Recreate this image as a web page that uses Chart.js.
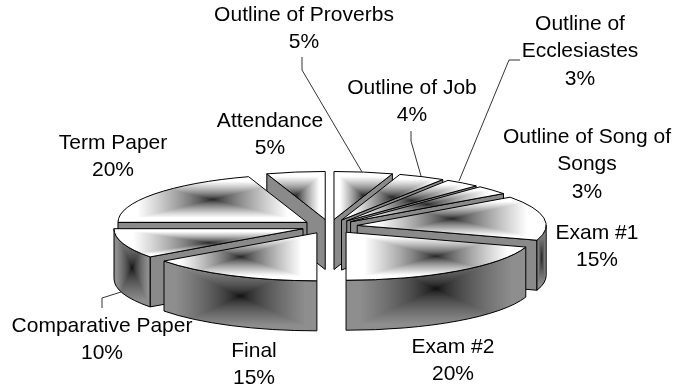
<!DOCTYPE html>
<html>
<head>
<meta charset="utf-8">
<style>html,body{margin:0;padding:0;background:#fff}canvas{display:block}</style>
<script src="https://cdn.jsdelivr.net/npm/chart.js@4"></script>
</head>
<body>
<div style="width:677px;height:392px"><canvas id="c" width="677" height="392"></canvas></div>
<script>
const categories = ['Outline of Proverbs','Outline of Job','Outline of Ecclesiastes','Outline of Song of Songs','Exam #1','Exam #2','Final','Comparative Paper','Term Paper','Attendance'];
const percentages = [5,4,3,3,15,20,15,10,20,5];
const labelLines = [['Outline of Proverbs'],['Outline of Job'],['Outline of','Ecclesiastes'],['Outline of Song of','Songs'],['Exam #1'],['Exam #2'],['Final'],['Comparative Paper'],['Term Paper'],['Attendance']];

// Layout of the annotation (not data)
const labelCenters = [[304,15],[412,88],[580,24],[587,137],[597,233],[453,347],[254,351],[102,326],[113,143],[270,121]];
const lineGap = 27.5;
const leaders = [
  [[302,57],[302,70],[362,172]],
  [[411,131],[411,141],[421,176]],
  [[520,60],[509,60],[459,181]],
  [[102,308],[102,298],[121,292]]
];
const pieView = {cx:329.6, cy:226.5, rx:189, ry:48, depth:50};

function rectGradient(w,h,inner,outer,stop,gamma){
  w=Math.max(1,Math.ceil(w)); h=Math.max(1,Math.ceil(h));
  const c=document.createElement('canvas'); c.width=w; c.height=h;
  const g=c.getContext('2d'); const im=g.createImageData(w,h);
  for(let y=0;y<h;y++)for(let x=0;x<w;x++){
    const t=Math.max(Math.abs(x+.5-w/2)/(w/2),Math.abs(y+.5-h/2)/(h/2));
    const v=inner+(outer-inner)*Math.pow(Math.min(1,t/stop),gamma);
    const i=(y*w+x)*4; im.data[i]=im.data[i+1]=im.data[i+2]=v; im.data[i+3]=255;
  }
  g.putImageData(im,0,0); return c;
}
function fillGrad(ctx,path,box,inner,outer,stop,gamma){
  ctx.save(); path(); ctx.clip();
  ctx.drawImage(rectGradient(box.x1-box.x0,box.y1-box.y0,inner,outer,stop,gamma),box.x0,box.y0,box.x1-box.x0,box.y1-box.y0);
  ctx.restore();
  path(); ctx.strokeStyle='#000'; ctx.lineWidth=1; ctx.stroke();
}

const pie3d = {
  id:'pie3d',
  beforeDatasetsDraw(chart){
    const ctx=chart.ctx, arcs=chart.getDatasetMeta(0).data, V=pieView;
    const items=arcs.map(a=>{
      const s=a.startAngle,e=a.endAngle,m=(s+e)/2,k=V.rx/a.outerRadius,off=a.options.offset*k;
      return {s,e,m,ax:V.cx+Math.cos(m)*off,ay:V.cy+Math.sin(m)*off*V.ry/V.rx};
    }).sort((p,q)=>Math.sin(p.m)-Math.sin(q.m));
    const pt=(o,t)=>[o.ax+V.rx*Math.cos(t),o.ay+V.ry*Math.sin(t)];
    ctx.save();
    for(const o of items){
      // radial faces
      for(const [t,vis] of [[o.s,Math.cos(o.s)<-1e-6],[o.e,Math.cos(o.e)>1e-6]]){
        if(!vis) continue;
        const p=pt(o,t);
        ctx.beginPath(); ctx.moveTo(o.ax,o.ay); ctx.lineTo(p[0],p[1]); ctx.lineTo(p[0],p[1]+V.depth); ctx.lineTo(o.ax,o.ay+V.depth); ctx.closePath();
        ctx.fillStyle='#8a8a8a'; ctx.fill(); ctx.strokeStyle='#000'; ctx.lineWidth=1; ctx.stroke();
      }
      // samples for the bounding box of the top
      const n=40,xs=[o.ax],ys=[o.ay];
      for(let i=0;i<=n;i++){const p=pt(o,o.s+(o.e-o.s)*i/n);xs.push(p[0]);ys.push(p[1]);}
      // outer wall
      const a0=Math.max(o.s,0),a1=Math.min(o.e,Math.PI);
      if(a1>a0){
        const wy=[],wx=[];
        for(let i=0;i<=n;i++){const p=pt(o,a0+(a1-a0)*i/n);wx.push(p[0]);wy.push(p[1],p[1]+V.depth);}
        const box={x0:Math.min(...wx),x1:Math.max(...wx),y0:Math.min(...wy),y1:Math.max(...wy)};
        fillGrad(ctx,()=>{
          ctx.beginPath(); ctx.ellipse(o.ax,o.ay,V.rx,V.ry,0,a0,a1);
          ctx.ellipse(o.ax,o.ay+V.depth,V.rx,V.ry,0,a1,a0,true); ctx.closePath();
        },box,8,142,0.85,0.6);
      }
      // top
      const box={x0:Math.min(...xs),x1:Math.max(...xs),y0:Math.min(...ys),y1:Math.max(...ys)};
      fillGrad(ctx,()=>{
        ctx.beginPath(); ctx.moveTo(o.ax,o.ay); ctx.ellipse(o.ax,o.ay,V.rx,V.ry,0,o.s,o.e); ctx.closePath();
      },box,28,255,0.8,0.7);
    }
    // leaders
    ctx.strokeStyle='#333'; ctx.lineWidth=1;
    for(const l of leaders){ctx.beginPath();l.forEach((p,i)=>i?ctx.lineTo(p[0],p[1]):ctx.moveTo(p[0],p[1]));ctx.stroke();}
    // labels
    ctx.fillStyle='#000'; ctx.font='21px "Liberation Sans", Arial, sans-serif'; ctx.textAlign='center'; ctx.textBaseline='middle';
    categories.forEach((c,i)=>{
      const lines=[...labelLines[i],percentages[i]+'%'];
      lines.forEach((t,j)=>ctx.fillText(t,labelCenters[i][0],labelCenters[i][1]+j*lineGap));
    });
    ctx.restore();
    return false;
  }
};

new Chart(document.getElementById('c'),{
  type:'pie',
  data:{labels:categories,datasets:[{data:percentages,offset:27,borderWidth:0,backgroundColor:'#fff'}]},
  options:{responsive:false,animation:false,layout:{padding:0},plugins:{legend:{display:false},tooltip:{enabled:false}}},
  plugins:[pie3d]
});
</script>
</body>
</html>
